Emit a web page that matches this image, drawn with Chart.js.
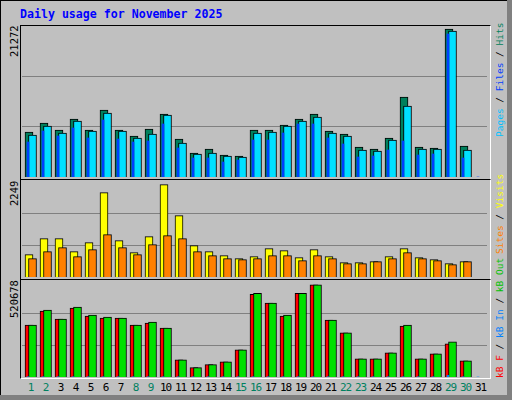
<!DOCTYPE html>
<html>
<head>
<meta charset="utf-8">
<script src="https://cdn.jsdelivr.net/npm/chart.js@4"></script>
<style>
  html, body { margin: 0; padding: 0; background: #fff; }
  #frame { position: relative; width: 512px; height: 400px; background: #808080; overflow: hidden; font-family: "DejaVu Sans Mono", monospace; }
  #inner { position: absolute; left: 0; top: 0; width: 507px; height: 395px; background: #c0c0c0; border-top: 1px solid #000; border-left: 1px solid #000; box-sizing: border-box; }
  .panel { position: absolute; left: 20px; width: 471px; border-top: 1px solid #000; border-left: 1px solid #000; border-right: 1px solid #fff; border-bottom: 1px solid #fff; box-sizing: border-box; }
  canvas { position: absolute; }
  .rot { position: absolute; transform-origin: 0 0; transform: rotate(-90deg); white-space: nowrap; line-height: 10px; }
  .ylab { font-size: 10.5px; color: #000; }
  .rlab { font-size: 9.5px; }
  .day { position: absolute; top: 381px; width: 16px; text-align: center; font-size: 11px; letter-spacing: -1px; }
  #title { position: absolute; left: 20px; top: 7px; font-size: 11.6px; font-weight: bold; color: #0000ff; }
</style>
</head>
<body>
<div id="frame">
  <div id="inner"></div>
  <div id="title">Daily usage for November 2025</div>
  <div class="panel" style="top:25px;height:155px"></div>
  <div class="panel" style="top:179px;height:101px"></div>
  <div class="panel" style="top:279px;height:100px"></div>
  <canvas id="c1" width="465" height="151" style="left:22px;top:26px;width:465px;height:151px"></canvas>
  <canvas id="c2" width="465" height="96" style="left:22px;top:181px;width:465px;height:96px"></canvas>
  <canvas id="c3" width="465" height="96" style="left:22px;top:281px;width:465px;height:96px"></canvas>
  <div class="rot ylab" style="left:9px;top:57px">21272</div>
  <div class="rot ylab" style="left:9px;top:206px">2249</div>
  <div class="rot ylab" style="left:9px;top:318px">520678</div>
  <div class="rot rlab" style="left:495px;top:137px"><span style="color:#00c0ff">Pages</span> / <span style="color:#0040ff">Files</span> / <span style="color:#00805c">Hits</span></div>
  <div class="rot rlab" style="left:495px;top:254px"><span style="color:#ff8000">Sites</span> / <span style="color:#ffff00">Visits</span></div>
  <div class="rot rlab" style="left:495px;top:378px"><span style="color:#ff0000">kB F</span> / <span style="color:#0080ff">kB In</span> / <span style="color:#00c000">kB Out</span></div>
  <div id="days"></div>
</div>
<script>
const days = Array.from({ length: 31 }, (_, i) => String(i + 1))
const weekendDays = [1, 2, 8, 9, 15, 16, 22, 23, 29, 30]

const hits  = [6469, 7763, 6756, 8338, 6756, 9631, 6756, 5894, 6900, 9056, 5463, 3450, 4025, 3163, 3019, 6756, 6756, 7475, 8338, 9056, 6613, 6181, 4313, 4025, 5606, 11500, 4313, 4169, 21272, 4456, 0]
const files = [6038, 7331, 6325, 8050, 6613, 9200, 6613, 5606, 6181, 8913, 4888, 3306, 3450, 3019, 2875, 6325, 6469, 7331, 8050, 8625, 6325, 5894, 3881, 3738, 5319, 10206, 4025, 4025, 20988, 3881, 0]
const pages = [5031, 6613, 5894, 7044, 5606, 8194, 5463, 5031, 5175, 7619, 4169, 2731, 2731, 2156, 2444, 5319, 5319, 6325, 7619, 7619, 5606, 4744, 2875, 3019, 3881, 5175, 3163, 3306, 20556, 2731, 0]

const visits = [545, 935, 935, 618, 837, 2054, 886, 594, 983, 2249, 1494, 764, 618, 521, 448, 497, 691, 643, 472, 667, 497, 350, 350, 375, 497, 691, 472, 424, 326, 375, 0]
const sites  = [448, 618, 716, 497, 667, 1032, 716, 545, 789, 1008, 935, 618, 521, 448, 424, 448, 521, 521, 399, 521, 448, 326, 326, 375, 448, 594, 448, 399, 302, 375, 0]

const kbF   = [294000, 372800, 327900, 389700, 344800, 333500, 333500, 294200, 305500, 277400, 97700, 52800, 69600, 86500, 153900, 468300, 417800, 344800, 473900, 520678, 322300, 249300, 103300, 103300, 137000, 288600, 103300, 131400, 187500, 92100, 0]
const kbOut = [294000, 378400, 327900, 395300, 350400, 339100, 333500, 294200, 311100, 277400, 97700, 52800, 69600, 86500, 153900, 473900, 417800, 350400, 473900, 520678, 322300, 249300, 103300, 103300, 137000, 294200, 103300, 131400, 198800, 92100, 0]
const kbIn  = [1500, 1500, 1500, 1500, 1500, 1500, 1500, 1500, 1500, 1500, 1500, 1500, 1500, 1500, 1500, 1500, 1500, 1500, 1500, 1500, 1500, 1500, 1500, 1500, 1500, 1500, 1500, 1500, 9000, 1500, 0]

const axisMax = [21703, 2337, 543000]

// shift bars sideways by a few pixels so they overlap like the original
const shiftPlugin = {
  id: "shift",
  afterDatasetsUpdate(chart) {
    chart.data.datasets.forEach((ds, i) => {
      chart.getDatasetMeta(i).data.forEach(el => { el.x += ds.shift || 0 })
    })
  }
}

function bar(data, color, shift, thickness, order) {
  return {
    data, backgroundColor: color, borderColor: "#000", borderWidth: thickness > 3 ? 1 : 0,
    barThickness: thickness, grouped: false, shift, order, borderSkipped: "bottom"
  }
}

function makeChart(id, max, datasets) {
  new Chart(document.getElementById(id), {
    type: "bar",
    data: { labels: days, datasets },
    plugins: [shiftPlugin],
    options: {
      responsive: false,
      animation: false,
      events: [],
      layout: { padding: 0 },
      plugins: { legend: { display: false }, tooltip: { enabled: false } },
      scales: {
        x: { display: false, offset: true, grid: { display: false } },
        y: {
          min: 0, max,
          afterBuildTicks: axis => { axis.ticks = [{ value: max / 3 }, { value: max * 2 / 3 }] },
          border: { display: false },
          ticks: { display: false },
          grid: { color: "#808080", lineWidth: 1, drawTicks: false }
        }
      }
    }
  })
}

makeChart("c1", axisMax[0], [
  bar(hits, "#00805c", -0.5, 8, 3),
  bar(files, "#00e0ff", 3, 8, 2),
  bar(pages, "#0040ff", -1.5, 2, 1)
])
makeChart("c2", axisMax[1], [
  bar(visits, "#ffff00", -0.5, 8, 2),
  bar(sites, "#ff8000", 3, 8, 1)
])
makeChart("c3", axisMax[2], [
  bar(kbF, "#ff0000", -0.5, 8, 3),
  bar(kbOut, "#00e000", 3, 8, 2),
  bar(kbIn, "#0080ff", -1.5, 2, 1)
])

const daysBox = document.getElementById("days")
days.forEach((d, i) => {
  const s = document.createElement("div")
  s.className = "day"
  s.style.left = (22 + i * 15 + 7.5 - 8 + 1) + "px"
  s.style.color = weekendDays.includes(i + 1) ? "#008060" : "#000"
  s.textContent = d
  daysBox.appendChild(s)
})
</script>
</body>
</html>
